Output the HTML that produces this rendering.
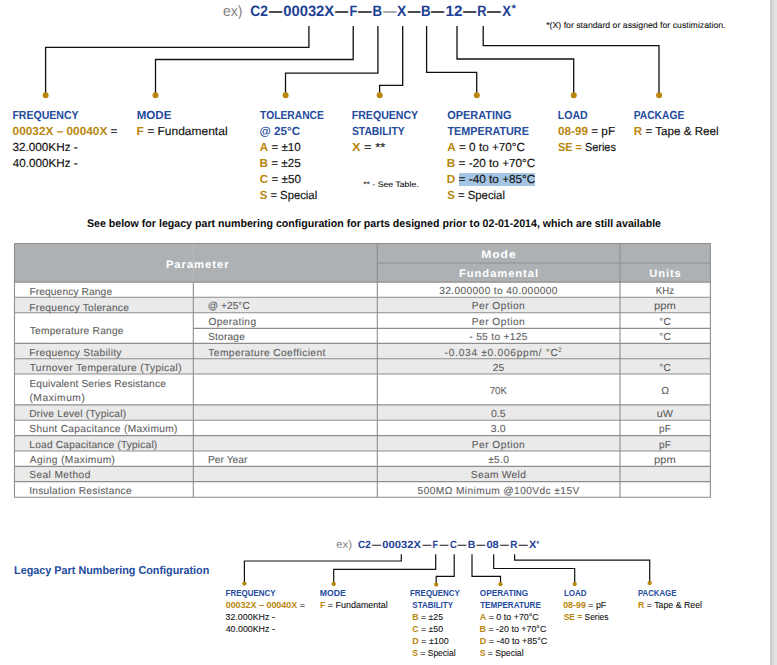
<!DOCTYPE html>
<html lang="en">
<head>
<meta charset="utf-8">
<title>Part Numbering Configuration</title>
<style>
html,body{margin:0;padding:0;background:#fff;}
body{width:777px;height:665px;position:relative;overflow:hidden;font-family:"Liberation Sans",sans-serif;}
.t{position:absolute;white-space:pre;line-height:24px;height:24px;transform-origin:0 0;margin:0;padding:0;text-rendering:geometricPrecision;}
.b{font-weight:bold;}
.h{text-rendering:auto;}
.r{position:absolute;}
svg{position:absolute;left:0;top:0;}
</style>
</head>
<body>
<div class="r" style="left:770px;top:0;width:7px;height:665px;background:linear-gradient(to right,#c8c8c8 0,#d2d2d2 25%,#dddddd 50%,#e4e4e4 70%,#e5e5e5 100%);"></div>
<div class="r" style="left:459px;top:172.7px;width:76.2px;height:13.2px;background:#A4C5E3;"></div>
<div class="r" style="left:14.5px;top:243.5px;width:695.9px;height:38.6px;background:#ADB1B4;"></div>
<div class="r" style="left:14.5px;top:297.3px;width:695.9px;height:15.4px;background:#EAEAEA;"></div>
<div class="r" style="left:14.5px;top:343.4px;width:695.9px;height:15.3px;background:#EAEAEA;"></div>
<div class="r" style="left:14.5px;top:358.7px;width:695.9px;height:15.3px;background:#EAEAEA;"></div>
<div class="r" style="left:14.5px;top:404.9px;width:695.9px;height:15.4px;background:#EAEAEA;"></div>
<div class="r" style="left:14.5px;top:435.6px;width:695.9px;height:15.4px;background:#EAEAEA;"></div>
<div class="r" style="left:14.5px;top:466.4px;width:695.9px;height:15.2px;background:#EAEAEA;"></div>
<svg width="777" height="665" viewBox="0 0 777 665">
<g stroke="#8e8e8e" stroke-width="1.1" fill="none">
<line x1="14.0" y1="243.5" x2="710.9" y2="243.5"/>
<line x1="14.0" y1="282.1" x2="710.9" y2="282.1"/>
<line x1="14.0" y1="297.3" x2="710.9" y2="297.3"/>
<line x1="14.0" y1="312.7" x2="710.9" y2="312.7"/>
<line x1="14.0" y1="343.4" x2="710.9" y2="343.4"/>
<line x1="14.0" y1="358.7" x2="710.9" y2="358.7"/>
<line x1="14.0" y1="374.0" x2="710.9" y2="374.0"/>
<line x1="14.0" y1="404.9" x2="710.9" y2="404.9"/>
<line x1="14.0" y1="420.3" x2="710.9" y2="420.3"/>
<line x1="14.0" y1="435.6" x2="710.9" y2="435.6"/>
<line x1="14.0" y1="451.0" x2="710.9" y2="451.0"/>
<line x1="14.0" y1="466.4" x2="710.9" y2="466.4"/>
<line x1="14.0" y1="481.6" x2="710.9" y2="481.6"/>
<line x1="14.0" y1="497.3" x2="710.9" y2="497.3"/>
<line x1="377.3" y1="263.0" x2="710.4" y2="263.0"/>
<line x1="193.3" y1="328.4" x2="710.4" y2="328.4"/>
<line x1="14.5" y1="243.5" x2="14.5" y2="497.3"/>
<line x1="193.3" y1="282.1" x2="193.3" y2="497.3"/>
<line x1="377.3" y1="243.5" x2="377.3" y2="497.3"/>
<line x1="620.0" y1="243.5" x2="620.0" y2="497.3"/>
<line x1="710.4" y1="243.5" x2="710.4" y2="497.3"/>
</g>
<line x1="193.3" y1="244.0" x2="193.3" y2="281.6" stroke="#b9bbbd" stroke-width="1"/>
<g stroke="#101010" stroke-width="1.3" fill="none" stroke-linejoin="miter">
<polyline points="308.9,26.0 308.9,47.4 45.6,47.4 45.6,95.3"/>
<polyline points="353.2,26.0 353.2,59.5 155.5,59.5 155.5,95.3"/>
<polyline points="377.9,26.0 377.9,73.1 285.5,73.1 285.5,95.3"/>
<polyline points="402.7,26.0 402.7,85.3 379.6,85.3 379.6,95.3"/>
<polyline points="426.6,26.0 426.6,72.4 476.7,72.4 476.7,95.3"/>
<polyline points="457.0,26.0 457.0,59.0 573.7,59.0 573.7,95.3"/>
<polyline points="483.2,26.0 483.2,45.7 659.0,45.7 659.0,95.3"/>
</g>
<g stroke="#101010" stroke-width="1.2" fill="none">
<polyline points="401.3,554.3 401.3,561.0 244.4,561.0 244.4,583.5"/>
<polyline points="435.7,554.3 435.7,569.4 333.7,569.4 333.7,583.9"/>
<polyline points="454.2,554.3 454.2,576.4 436.2,576.4 436.2,584.5"/>
<polyline points="472.0,554.3 472.0,576.4 500.5,576.4 500.5,584.2"/>
<polyline points="493.7,554.3 493.7,568.5 574.7,568.5 574.7,584.0"/>
<polyline points="514.6,554.3 514.6,560.2 649.7,560.2 649.7,582.9"/>
</g>
<g fill="#B8860B">
<circle cx="45.6" cy="95.3" r="3"/>
<circle cx="155.5" cy="95.3" r="3"/>
<circle cx="285.6" cy="95.3" r="3"/>
<circle cx="379.7" cy="95.3" r="3"/>
<circle cx="476.8" cy="95.3" r="3"/>
<circle cx="573.8" cy="95.3" r="3"/>
<circle cx="659.1" cy="95.3" r="3"/>
<circle cx="244.4" cy="583.6" r="2.15"/>
<circle cx="333.7" cy="584.0" r="2.15"/>
<circle cx="436.2" cy="584.6" r="2.15"/>
<circle cx="500.5" cy="584.2" r="2.15"/>
<circle cx="574.7" cy="584.1" r="2.15"/>
<circle cx="649.7" cy="583.0" r="2.15"/>
</g>
</svg>
<div class="t" style="left:222px;top:0px;font-size:14.8px;transform:translateX(0.90px) scaleX(0.9484);color:#828282;">ex)</div>
<div class="t b" style="left:250px;top:0px;font-size:15px;transform:translateX(0.31px) scaleX(0.9177);color:#1C3F94;">C2</div>
<div class="t b" style="left:269px;top:0px;font-size:15px;transform:translateX(0.11px) scaleX(0.8881);color:#1b1b2a;">—</div>
<div class="t b" style="left:283px;top:0px;font-size:15px;transform:translateX(0.24px) scaleX(0.9852);color:#1C3F94;">00032X</div>
<div class="t b" style="left:335px;top:0px;font-size:15px;transform:translateX(0.11px) scaleX(0.8816);color:#1b1b2a;">—</div>
<div class="t b" style="left:349px;top:0px;font-size:15px;transform:translateX(0.46px) scaleX(0.8500);color:#1C3F94;">F</div>
<div class="t b" style="left:358px;top:0px;font-size:15px;transform:translateX(0.11px) scaleX(0.9030);color:#1b1b2a;">—</div>
<div class="t b" style="left:372px;top:0px;font-size:15px;transform:translateX(0.41px) scaleX(0.8773);color:#1C3F94;">B</div>
<div class="t b" style="left:382px;top:0px;font-size:15px;transform:translateX(0.88px) scaleX(0.9080);color:#9a9aa0;">—</div>
<div class="t b" style="left:397px;top:0px;font-size:15px;transform:translateX(0.09px) scaleX(0.9233);color:#1C3F94;">X</div>
<div class="t b" style="left:407px;top:0px;font-size:15px;transform:translateX(0.70px) scaleX(0.8500);color:#1b1b2a;">—</div>
<div class="t b" style="left:420px;top:0px;font-size:15px;transform:translateX(0.93px) scaleX(0.8879);color:#1C3F94;">B</div>
<div class="t b" style="left:431px;top:0px;font-size:15px;transform:translateX(0.11px) scaleX(0.8816);color:#1b1b2a;">—</div>
<div class="t b" style="left:445px;top:0px;font-size:15px;transform:translateX(0.46px) scaleX(1.0140);color:#1C3F94;">12</div>
<div class="t b" style="left:463px;top:0px;font-size:15px;transform:translateX(0.11px) scaleX(0.8777);color:#1b1b2a;">—</div>
<div class="t b" style="left:477px;top:0px;font-size:15px;transform:translateX(0.34px) scaleX(0.8500);color:#1C3F94;">R</div>
<div class="t b" style="left:487px;top:0px;font-size:15px;transform:translateX(0.11px) scaleX(0.9183);color:#1b1b2a;">—</div>
<div class="t b" style="left:502px;top:0px;font-size:15px;transform:translateX(0.28px) scaleX(0.8772);color:#1C3F94;">X</div>
<div class="t b" style="left:511px;top:-3px;font-size:11px;transform:translateX(0.63px) scaleX(0.9665);color:#1C3F94;">*</div>
<div class="t" style="left:546px;top:13px;font-size:8.6px;transform:translateX(0.23px) scaleX(1.0144);color:#111111;-webkit-text-stroke:0.09px;">*(X) for standard or assigned for custimization.</div>
<div class="t b" style="left:12px;top:104px;font-size:11.7px;transform:translateX(0.41px) scaleX(0.9024);color:#244B9D;">FREQUENCY</div>
<div class="t" style="left:12px;top:120px;font-size:11.7px;transform:translateX(0.58px) scaleX(1.0119);"><span style="color:#B8860B;font-weight:bold;">00032X – 00040X</span><span style="color:#111111;-webkit-text-stroke:0.15px;"> =</span></div>
<div class="t" style="left:12px;top:136px;font-size:11.7px;transform:translateX(0.52px) scaleX(1.0024);color:#111111;-webkit-text-stroke:0.15px;">32.000KHz -</div>
<div class="t" style="left:12px;top:152px;font-size:11.7px;transform:translateX(0.80px) scaleX(0.9972);color:#111111;-webkit-text-stroke:0.15px;">40.000KHz -</div>
<div class="t b" style="left:136px;top:104px;font-size:11.7px;transform:translateX(0.63px) scaleX(0.9901);color:#244B9D;">MODE</div>
<div class="t" style="left:136px;top:120px;font-size:11.7px;transform:translateX(0.53px) scaleX(1.0263);"><span style="color:#B8860B;font-weight:bold;">F</span><span style="color:#111111;-webkit-text-stroke:0.15px;"> = Fundamental</span></div>
<div class="t b" style="left:260px;top:104px;font-size:11.7px;transform:translateX(0.08px) scaleX(0.8794);color:#244B9D;">TOLERANCE</div>
<div class="t b" style="left:259px;top:120px;font-size:11.7px;transform:translateX(0.49px) scaleX(0.9985);color:#244B9D;">@ 25°C</div>
<div class="t" style="left:259px;top:136px;font-size:11.7px;transform:translateX(0.76px) scaleX(0.9954);"><span style="color:#B8860B;font-weight:bold;">A</span><span style="color:#111111;-webkit-text-stroke:0.15px;"> = ±10</span></div>
<div class="t" style="left:259px;top:152px;font-size:11.7px;transform:translateX(0.45px) scaleX(1.0016);"><span style="color:#B8860B;font-weight:bold;">B</span><span style="color:#111111;-webkit-text-stroke:0.15px;"> = ±25</span></div>
<div class="t" style="left:259px;top:168px;font-size:11.7px;transform:translateX(0.83px) scaleX(0.9963);"><span style="color:#B8860B;font-weight:bold;">C</span><span style="color:#111111;-webkit-text-stroke:0.15px;"> = ±50</span></div>
<div class="t" style="left:259px;top:184px;font-size:11.7px;transform:translateX(0.72px) scaleX(0.9659);"><span style="color:#B8860B;font-weight:bold;">S</span><span style="color:#111111;-webkit-text-stroke:0.15px;"> = Special</span></div>
<div class="t b" style="left:351px;top:104px;font-size:11.7px;transform:translateX(0.76px) scaleX(0.9051);color:#244B9D;">FREQUENCY</div>
<div class="t b" style="left:351px;top:120px;font-size:11.7px;transform:translateX(0.89px) scaleX(0.8877);color:#244B9D;">STABILITY</div>
<div class="t" style="left:351px;top:136px;font-size:11.7px;transform:translateX(0.90px) scaleX(1.1000);"><span style="color:#B8860B;font-weight:bold;">X</span><span style="color:#111111;-webkit-text-stroke:0.15px;"> = **</span></div>
<div class="t" style="left:363px;top:173px;font-size:8.0px;transform:translateX(0.17px) scaleX(1.0876);color:#111111;-webkit-text-stroke:0.09px;">** - See Table.</div>
<div class="t b" style="left:447px;top:104px;font-size:11.7px;transform:translateX(0.21px) scaleX(0.9356);color:#244B9D;">OPERATING</div>
<div class="t b" style="left:447px;top:120px;font-size:11.7px;transform:translateX(0.48px) scaleX(0.9238);color:#244B9D;">TEMPERATURE</div>
<div class="t" style="left:447px;top:136px;font-size:11.7px;transform:translateX(0.24px) scaleX(1.0038);"><span style="color:#B8860B;font-weight:bold;">A</span><span style="color:#111111;-webkit-text-stroke:0.15px;"> = 0 to +70°C</span></div>
<div class="t" style="left:446px;top:152px;font-size:11.7px;transform:translateX(0.84px) scaleX(1.0071);"><span style="color:#B8860B;font-weight:bold;">B</span><span style="color:#111111;-webkit-text-stroke:0.15px;"> = -20 to +70°C</span></div>
<div class="t" style="left:446px;top:168px;font-size:11.7px;transform:translateX(0.84px) scaleX(1.0071);"><span style="color:#B8860B;font-weight:bold;">D</span><span style="color:#111111;-webkit-text-stroke:0.15px;"> = -40 to +85°C</span></div>
<div class="t" style="left:447px;top:184px;font-size:11.7px;transform:translateX(0.26px) scaleX(0.9696);"><span style="color:#B8860B;font-weight:bold;">S</span><span style="color:#111111;-webkit-text-stroke:0.15px;"> = Special</span></div>
<div class="t b" style="left:557px;top:104px;font-size:11.7px;transform:translateX(0.76px) scaleX(0.9059);color:#244B9D;">LOAD</div>
<div class="t" style="left:557px;top:120px;font-size:11.7px;transform:translateX(0.92px) scaleX(1.0052);"><span style="color:#B8860B;font-weight:bold;">08-99</span><span style="color:#111111;-webkit-text-stroke:0.15px;"> = pF</span></div>
<div class="t" style="left:557px;top:136px;font-size:11.7px;transform:translateX(0.93px) scaleX(0.9337);"><span style="color:#B8860B;font-weight:bold;">SE =</span><span style="color:#111111;-webkit-text-stroke:0.15px;"> Series</span></div>
<div class="t b" style="left:633px;top:104px;font-size:11.7px;transform:translateX(0.73px) scaleX(0.8769);color:#244B9D;">PACKAGE</div>
<div class="t" style="left:633px;top:120px;font-size:11.7px;transform:translateX(0.81px) scaleX(0.9954);"><span style="color:#B8860B;font-weight:bold;">R</span><span style="color:#111111;-webkit-text-stroke:0.15px;"> = Tape &amp; Reel</span></div>
<div class="t b" style="left:86px;top:212px;font-size:11px;transform:translateX(0.88px) scaleX(0.9663);color:#0c0c0c;">See below for legacy part numbering configuration for parts designed prior to 02-01-2014, which are still available</div>
<div class="t b" style="left:165px;top:253px;font-size:11px;letter-spacing:0.900px;transform:translateX(0.89px) scaleX(1.0269);color:#ffffff;">Parameter</div>
<div class="t b" style="left:481px;top:243px;font-size:11px;letter-spacing:0.900px;transform:translateX(0.23px) scaleX(1.0931);color:#ffffff;">Mode</div>
<div class="t b" style="left:459px;top:262px;font-size:11px;letter-spacing:0.900px;transform:translateX(0.06px) scaleX(1.0195);color:#ffffff;">Fundamental</div>
<div class="t b" style="left:649px;top:262px;font-size:11px;letter-spacing:0.900px;transform:translateX(0.17px) scaleX(1.0189);color:#ffffff;">Units</div>
<div class="t" style="left:29px;top:281px;font-size:10.2px;letter-spacing:0.118px;transform:translateX(0.41px);-webkit-text-stroke:0.1px;color:#5e5e5e;">Frequency Range</div>
<div class="t" style="left:29px;top:297px;font-size:10.2px;letter-spacing:0.256px;transform:translateX(0.29px);-webkit-text-stroke:0.1px;color:#5e5e5e;">Frequency Tolerance</div>
<div class="t" style="left:29px;top:320px;font-size:10.2px;letter-spacing:0.236px;transform:translateX(0.70px);-webkit-text-stroke:0.1px;color:#5e5e5e;">Temperature Range</div>
<div class="t" style="left:29px;top:342px;font-size:10.2px;letter-spacing:0.305px;transform:translateX(0.30px);-webkit-text-stroke:0.1px;color:#5e5e5e;">Frequency Stability</div>
<div class="t" style="left:29px;top:357px;font-size:10.2px;letter-spacing:0.357px;transform:translateX(0.66px);-webkit-text-stroke:0.1px;color:#5e5e5e;">Turnover Temperature (Typical)</div>
<div class="t" style="left:29px;top:373px;font-size:10.2px;letter-spacing:0.144px;transform:translateX(0.43px);-webkit-text-stroke:0.1px;color:#5e5e5e;">Equivalent Series Resistance</div>
<div class="t" style="left:29px;top:387px;font-size:10.2px;letter-spacing:0.555px;transform:translateX(0.42px);-webkit-text-stroke:0.1px;color:#5e5e5e;">(Maximum)</div>
<div class="t" style="left:29px;top:403px;font-size:10.2px;letter-spacing:0.229px;transform:translateX(0.26px);-webkit-text-stroke:0.1px;color:#5e5e5e;">Drive Level (Typical)</div>
<div class="t" style="left:29px;top:418px;font-size:10.2px;letter-spacing:0.319px;transform:translateX(0.30px);-webkit-text-stroke:0.1px;color:#5e5e5e;">Shunt Capacitance (Maximum)</div>
<div class="t" style="left:29px;top:434px;font-size:10.2px;letter-spacing:0.177px;transform:translateX(0.37px);-webkit-text-stroke:0.1px;color:#5e5e5e;">Load Capacitance (Typical)</div>
<div class="t" style="left:29px;top:449px;font-size:10.2px;letter-spacing:0.379px;transform:translateX(0.87px);-webkit-text-stroke:0.1px;color:#5e5e5e;">Aging (Maximum)</div>
<div class="t" style="left:29px;top:464px;font-size:10.2px;letter-spacing:0.375px;transform:translateX(0.35px);-webkit-text-stroke:0.1px;color:#5e5e5e;">Seal Method</div>
<div class="t" style="left:29px;top:480px;font-size:10.2px;letter-spacing:0.283px;transform:translateX(0.14px);-webkit-text-stroke:0.1px;color:#5e5e5e;">Insulation Resistance</div>
<div class="t" style="left:207px;top:295px;font-size:10.2px;letter-spacing:0.023px;transform:translateX(0.80px);-webkit-text-stroke:0.1px;color:#5e5e5e;">@ +25°C</div>
<div class="t" style="left:208px;top:311px;font-size:10.2px;letter-spacing:0.361px;transform:translateX(0.44px);-webkit-text-stroke:0.1px;color:#5e5e5e;">Operating</div>
<div class="t" style="left:208px;top:326px;font-size:10.2px;letter-spacing:0.190px;transform:translateX(0.04px);-webkit-text-stroke:0.1px;color:#5e5e5e;">Storage</div>
<div class="t" style="left:208px;top:342px;font-size:10.2px;letter-spacing:0.408px;transform:translateX(0.36px);-webkit-text-stroke:0.1px;color:#5e5e5e;">Temperature Coefficient</div>
<div class="t" style="left:207px;top:449px;font-size:10.2px;letter-spacing:0.053px;transform:translateX(0.99px);-webkit-text-stroke:0.1px;color:#5e5e5e;">Per Year</div>
<div class="t" style="left:439px;top:280px;font-size:10.2px;letter-spacing:0.371px;transform:translateX(0.17px);-webkit-text-stroke:0.1px;color:#5e5e5e;">32.000000 to 40.000000</div>
<div class="t" style="left:471px;top:295px;font-size:10.2px;letter-spacing:0.460px;transform:translateX(0.85px);-webkit-text-stroke:0.1px;color:#5e5e5e;">Per Option</div>
<div class="t" style="left:471px;top:311px;font-size:10.2px;letter-spacing:0.460px;transform:translateX(0.85px);-webkit-text-stroke:0.1px;color:#5e5e5e;">Per Option</div>
<div class="t" style="left:469px;top:326px;font-size:10.2px;letter-spacing:0.318px;transform:translateX(0.28px);-webkit-text-stroke:0.1px;color:#5e5e5e;">- 55 to +125</div>
<div class="t" style="left:492px;top:357px;font-size:10.2px;transform:translateX(0.84px) scaleX(0.9922);-webkit-text-stroke:0.1px;color:#5e5e5e;">25</div>
<div class="t" style="left:489px;top:380px;font-size:10.2px;transform:translateX(0.67px) scaleX(0.9513);-webkit-text-stroke:0.1px;color:#5e5e5e;">70K</div>
<div class="t" style="left:490px;top:403px;font-size:10.2px;transform:translateX(0.96px) scaleX(1.0409);-webkit-text-stroke:0.1px;color:#5e5e5e;">0.5</div>
<div class="t" style="left:490px;top:418px;font-size:10.2px;transform:translateX(0.86px) scaleX(1.0334);-webkit-text-stroke:0.1px;color:#5e5e5e;">3.0</div>
<div class="t" style="left:471px;top:434px;font-size:10.2px;letter-spacing:0.460px;transform:translateX(0.85px);-webkit-text-stroke:0.1px;color:#5e5e5e;">Per Option</div>
<div class="t" style="left:488px;top:449px;font-size:10.2px;letter-spacing:0.329px;transform:translateX(0.20px);-webkit-text-stroke:0.1px;color:#5e5e5e;">±5.0</div>
<div class="t" style="left:470px;top:464px;font-size:10.2px;letter-spacing:0.310px;transform:translateX(0.85px);-webkit-text-stroke:0.1px;color:#5e5e5e;">Seam Weld</div>
<div class="t" style="left:417px;top:480px;font-size:10.2px;letter-spacing:0.406px;transform:translateX(0.59px);-webkit-text-stroke:0.1px;color:#5e5e5e;">500MΩ Minimum @100Vdc ±15V</div>
<div class="t" style="left:444px;top:342px;font-size:10.2px;letter-spacing:0.709px;transform:translateX(0.61px);-webkit-text-stroke:0.1px;color:#5e5e5e;">-0.034 ±0.006ppm/ °C</div>
<div class="t" style="left:557px;top:339px;font-size:6.5px;transform:translateX(0.96px);color:#5e5e5e;">2</div>
<div class="t" style="left:655px;top:280px;font-size:10.2px;transform:translateX(0.87px) scaleX(0.9518);-webkit-text-stroke:0.1px;color:#5e5e5e;">KHz</div>
<div class="t" style="left:654px;top:295px;font-size:10.2px;transform:translateX(0.09px) scaleX(1.0934);-webkit-text-stroke:0.1px;color:#5e5e5e;">ppm</div>
<div class="t" style="left:659px;top:311px;font-size:10.2px;transform:translateX(0.37px) scaleX(0.9853);-webkit-text-stroke:0.1px;color:#5e5e5e;">°C</div>
<div class="t" style="left:659px;top:326px;font-size:10.2px;transform:translateX(0.37px) scaleX(0.9853);-webkit-text-stroke:0.1px;color:#5e5e5e;">°C</div>
<div class="t" style="left:659px;top:357px;font-size:10.2px;transform:translateX(0.37px) scaleX(0.9853);-webkit-text-stroke:0.1px;color:#5e5e5e;">°C</div>
<div class="t" style="left:661px;top:380px;font-size:10.2px;transform:translateX(0.24px) scaleX(1.0212);-webkit-text-stroke:0.1px;color:#5e5e5e;">Ω</div>
<div class="t" style="left:656px;top:403px;font-size:10.2px;transform:translateX(0.72px) scaleX(1.0604);-webkit-text-stroke:0.1px;color:#5e5e5e;">uW</div>
<div class="t" style="left:659px;top:418px;font-size:10.2px;transform:translateX(0.07px) scaleX(0.9843);-webkit-text-stroke:0.1px;color:#5e5e5e;">pF</div>
<div class="t" style="left:659px;top:434px;font-size:10.2px;transform:translateX(0.07px) scaleX(0.9843);-webkit-text-stroke:0.1px;color:#5e5e5e;">pF</div>
<div class="t" style="left:654px;top:449px;font-size:10.2px;transform:translateX(0.09px) scaleX(1.0934);-webkit-text-stroke:0.1px;color:#5e5e5e;">ppm</div>
<div class="t b" style="left:14px;top:559px;font-size:11.4px;transform:translateX(0.12px) scaleX(0.9488);color:#244B9D;">Legacy Part Numbering Configuration</div>
<div class="t" style="left:336px;top:533px;font-size:11px;transform:translateX(0.28px) scaleX(1.0245);color:#828282;">ex)</div>
<div class="t b" style="left:357px;top:534px;font-size:10.4px;transform:translateX(0.97px) scaleX(0.9578);color:#1C3F94;">C2</div>
<div class="t b" style="left:372px;top:534px;font-size:10.4px;transform:translateX(0.11px) scaleX(0.8735);color:#1b1b2a;">—</div>
<div class="t b" style="left:382px;top:534px;font-size:10.4px;transform:translateX(0.34px) scaleX(1.0757);color:#1C3F94;">00032X</div>
<div class="t b" style="left:422px;top:534px;font-size:10.4px;transform:translateX(0.51px) scaleX(0.8500);color:#1b1b2a;">—</div>
<div class="t b" style="left:432px;top:534px;font-size:10.4px;transform:translateX(0.59px) scaleX(0.8500);color:#1C3F94;">F</div>
<div class="t b" style="left:439px;top:534px;font-size:10.4px;transform:translateX(0.51px) scaleX(0.8519);color:#1b1b2a;">—</div>
<div class="t b" style="left:449px;top:534px;font-size:10.4px;transform:translateX(0.88px) scaleX(0.9137);color:#1C3F94;">C</div>
<div class="t b" style="left:457px;top:534px;font-size:10.4px;transform:translateX(0.61px) scaleX(0.8500);color:#1b1b2a;">—</div>
<div class="t b" style="left:467px;top:534px;font-size:10.4px;transform:translateX(0.77px) scaleX(1.0138);color:#1C3F94;">B</div>
<div class="t b" style="left:476px;top:534px;font-size:10.4px;transform:translateX(0.44px) scaleX(0.8500);color:#1b1b2a;">—</div>
<div class="t b" style="left:486px;top:534px;font-size:10.4px;transform:translateX(0.41px) scaleX(1.0601);color:#1C3F94;">08</div>
<div class="t b" style="left:499px;top:534px;font-size:10.4px;transform:translateX(0.88px) scaleX(0.8551);color:#1b1b2a;">—</div>
<div class="t b" style="left:510px;top:534px;font-size:10.4px;transform:translateX(0.28px) scaleX(0.9565);color:#1C3F94;">R</div>
<div class="t b" style="left:518px;top:534px;font-size:10.4px;transform:translateX(0.51px) scaleX(0.8928);color:#1b1b2a;">—</div>
<div class="t b" style="left:528px;top:534px;font-size:10.4px;transform:translateX(0.97px) scaleX(1.0556);color:#1C3F94;">X</div>
<div class="t b" style="left:536px;top:532px;font-size:7.5px;transform:translateX(0.40px) scaleX(0.8500);color:#1C3F94;">*</div>
<div class="t b h" style="left:225px;top:581px;font-size:8.8px;transform:translateX(0.60px) scaleX(0.9059);color:#244B9D;">FREQUENCY</div>
<div class="t h" style="left:225px;top:593px;font-size:8.8px;transform:translateX(0.69px) scaleX(1.0153);"><span style="color:#B8860B;font-weight:bold;">00032X – 00040X</span><span style="color:#111111;-webkit-text-stroke:0.09px;"> =</span></div>
<div class="t h" style="left:225px;top:605px;font-size:8.8px;transform:translateX(0.55px) scaleX(1.0078);color:#111111;-webkit-text-stroke:0.09px;">32.000KHz -</div>
<div class="t h" style="left:225px;top:617px;font-size:8.8px;transform:translateX(0.66px) scaleX(1.0058);color:#111111;-webkit-text-stroke:0.09px;">40.000KHz -</div>
<div class="t b h" style="left:319px;top:581px;font-size:8.8px;transform:translateX(0.73px) scaleX(0.9843);color:#244B9D;">MODE</div>
<div class="t h" style="left:319px;top:593px;font-size:8.8px;transform:translateX(0.88px) scaleX(1.0167);"><span style="color:#B8860B;font-weight:bold;">F</span><span style="color:#111111;-webkit-text-stroke:0.09px;"> = Fundamental</span></div>
<div class="t b h" style="left:410px;top:581px;font-size:8.8px;transform:translateX(0.01px) scaleX(0.9023);color:#244B9D;">FREQUENCY</div>
<div class="t b h" style="left:412px;top:593px;font-size:8.8px;transform:translateX(0.33px) scaleX(0.9085);color:#244B9D;">STABILITY</div>
<div class="t h" style="left:412px;top:605px;font-size:8.8px;transform:translateX(0.31px) scaleX(0.9896);"><span style="color:#B8860B;font-weight:bold;">B</span><span style="color:#111111;-webkit-text-stroke:0.09px;"> = ±25</span></div>
<div class="t h" style="left:412px;top:617px;font-size:8.8px;transform:translateX(0.33px) scaleX(0.9899);"><span style="color:#B8860B;font-weight:bold;">C</span><span style="color:#111111;-webkit-text-stroke:0.09px;"> = ±50</span></div>
<div class="t h" style="left:412px;top:629px;font-size:8.8px;transform:translateX(0.23px) scaleX(1.0182);"><span style="color:#B8860B;font-weight:bold;">D</span><span style="color:#111111;-webkit-text-stroke:0.09px;"> = ±100</span></div>
<div class="t h" style="left:412px;top:641px;font-size:8.8px;transform:translateX(0.32px) scaleX(0.9677);"><span style="color:#B8860B;font-weight:bold;">S</span><span style="color:#111111;-webkit-text-stroke:0.09px;"> = Special</span></div>
<div class="t b h" style="left:479px;top:581px;font-size:8.8px;transform:translateX(0.79px) scaleX(0.9357);color:#244B9D;">OPERATING</div>
<div class="t b h" style="left:480px;top:593px;font-size:8.8px;transform:translateX(0.18px) scaleX(0.9137);color:#244B9D;">TEMPERATURE</div>
<div class="t h" style="left:479px;top:605px;font-size:8.8px;transform:translateX(0.79px) scaleX(1.0122);"><span style="color:#B8860B;font-weight:bold;">A</span><span style="color:#111111;-webkit-text-stroke:0.09px;"> = 0 to +70°C</span></div>
<div class="t h" style="left:479px;top:617px;font-size:8.8px;transform:translateX(0.58px) scaleX(1.0092);"><span style="color:#B8860B;font-weight:bold;">B</span><span style="color:#111111;-webkit-text-stroke:0.09px;"> = -20 to +70°C</span></div>
<div class="t h" style="left:479px;top:629px;font-size:8.8px;transform:translateX(0.69px) scaleX(1.0212);"><span style="color:#B8860B;font-weight:bold;">D</span><span style="color:#111111;-webkit-text-stroke:0.09px;"> = -40 to +85°C</span></div>
<div class="t h" style="left:479px;top:641px;font-size:8.8px;transform:translateX(0.71px) scaleX(0.9802);"><span style="color:#B8860B;font-weight:bold;">S</span><span style="color:#111111;-webkit-text-stroke:0.09px;"> = Special</span></div>
<div class="t b h" style="left:563px;top:581px;font-size:8.8px;transform:translateX(0.94px) scaleX(0.9082);color:#244B9D;">LOAD</div>
<div class="t h" style="left:563px;top:593px;font-size:8.8px;transform:translateX(0.19px) scaleX(1.0058);"><span style="color:#B8860B;font-weight:bold;">08-99</span><span style="color:#111111;-webkit-text-stroke:0.09px;"> = pF</span></div>
<div class="t h" style="left:563px;top:605px;font-size:8.8px;transform:translateX(0.70px) scaleX(0.9568);"><span style="color:#B8860B;font-weight:bold;">SE =</span><span style="color:#111111;-webkit-text-stroke:0.09px;"> Series</span></div>
<div class="t b h" style="left:637px;top:581px;font-size:8.8px;transform:translateX(1.00px) scaleX(0.8842);color:#244B9D;">PACKAGE</div>
<div class="t h" style="left:638px;top:593px;font-size:8.8px;transform:translateX(0.00px) scaleX(0.9977);"><span style="color:#B8860B;font-weight:bold;">R</span><span style="color:#111111;-webkit-text-stroke:0.09px;"> = Tape &amp; Reel</span></div>
</body>
</html>
